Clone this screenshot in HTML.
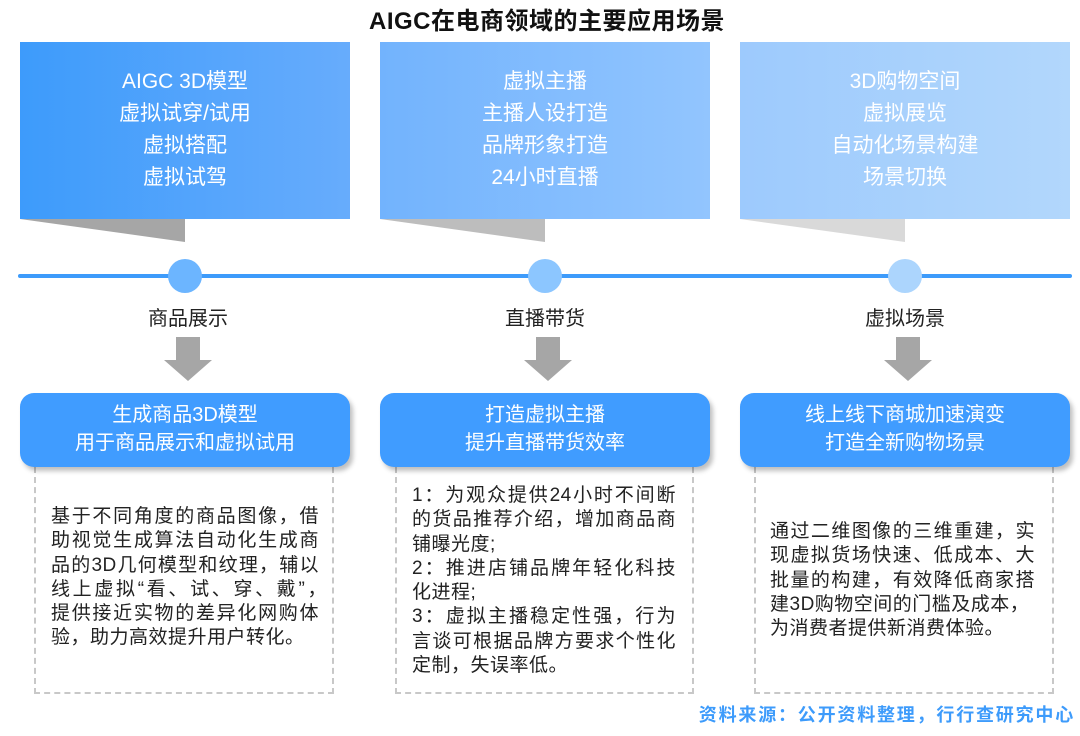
<!DOCTYPE html>
<html><head><meta charset="utf-8"><style>
body{margin:0;width:1080px;height:736px;background:#fff;position:relative;overflow:hidden;font-family:"Liberation Sans","Noto Sans CJK SC",sans-serif}
.a{position:absolute}
.title{left:0;width:1094px;top:1px;text-align:center;font-size:24px;font-weight:bold;color:#111;letter-spacing:0.5px}
.top{top:42px;height:177px;width:330px;color:#fff;font-size:21px;line-height:32px;text-align:center;box-sizing:border-box;padding-top:24px}
.lab{top:302px;font-size:20px;color:#222;width:200px;text-align:center}
.hd{top:393px;height:74px;width:330px;background:#409cff;border-radius:14px;color:#fff;font-size:20px;line-height:28px;text-align:center;box-sizing:border-box;padding-top:8px;box-shadow:3px 4px 5px rgba(0,0,0,0.25)}
.db{top:467px;height:227px;border:2px dashed #c8c8c8;border-top:none;box-sizing:border-box}
.tx{font-size:19px;line-height:24.3px;color:#222;letter-spacing:0.5px}
.tx div{white-space:nowrap}
.j{text-align:justify;text-align-last:justify}
</style></head><body>
<div class="a title">AIGC在电商领域的主要应用场景</div>

<svg class="a" style="left:0;top:0" width="1080" height="400">
<polygon points="20,219 185,219 185,242" fill="#a6a6a6"/>
<polygon points="380,219 545,219 545,242" fill="#bdbdbd"/>
<polygon points="740,219 905,219 905,242" fill="#d9d9d9"/>
<line x1="20" y1="276" x2="1070" y2="276" stroke="#3d9bfb" stroke-width="4" stroke-linecap="round"/>
<circle cx="185" cy="276" r="17" fill="#6cb5ff"/>
<circle cx="545" cy="276" r="17" fill="#8cc6ff"/>
<circle cx="905" cy="276" r="17" fill="#acd5fd"/>
<polygon points="176,337 200,337 200,360 212,360 188,381 164,360 176,360" fill="#a6a6a6"/>
<polygon points="536,337 560,337 560,360 572,360 548,381 524,360 536,360" fill="#a6a6a6"/>
<polygon points="896,337 920,337 920,360 932,360 908,381 884,360 896,360" fill="#a6a6a6"/>
</svg>

<div class="a top" style="left:20px;background:linear-gradient(90deg,#3d9bfb,#67acfc)">AIGC 3D模型<br>虚拟试穿/试用<br>虚拟搭配<br>虚拟试驾</div>
<div class="a top" style="left:380px;background:linear-gradient(90deg,#72b3fd,#92c5fe)">虚拟主播<br>主播人设打造<br>品牌形象打造<br>24小时直播</div>
<div class="a top" style="left:740px;background:linear-gradient(90deg,#9dcafd,#b2d7fc)">3D购物空间<br>虚拟展览<br>自动化场景构建<br>场景切换</div>

<div class="a lab" style="left:88px">商品展示</div>
<div class="a lab" style="left:445px">直播带货</div>
<div class="a lab" style="left:805px">虚拟场景</div>

<div class="a db" style="left:34px;width:300px"></div>
<div class="a db" style="left:395px;width:299px"></div>
<div class="a db" style="left:754px;width:300px"></div>

<div class="a hd" style="left:20px">生成商品3D模型<br>用于商品展示和虚拟试用</div>
<div class="a hd" style="left:380px">打造虚拟主播<br>提升直播带货效率</div>
<div class="a hd" style="left:740px">线上线下商城加速演变<br>打造全新购物场景</div>

<div class="a tx" style="left:51px;top:505px;width:268px">
<div class="j">基于不同角度的商品图像，借</div>
<div class="j">助视觉生成算法自动化生成商</div>
<div class="j">品的3D几何模型和纹理，辅以</div>
<div class="j" style="width:276px">线上虚拟“看、试、穿、戴”，</div>
<div class="j">提供接近实物的差异化网购体</div>
<div>验，助力高效提升用户转化。</div>
</div>

<div class="a tx" style="left:412px;top:484px;width:264px">
<div class="j">1：为观众提供24小时不间断</div>
<div class="j">的货品推荐介绍，增加商品商</div>
<div>铺曝光度;</div>
<div class="j">2：推进店铺品牌年轻化科技</div>
<div>化进程;</div>
<div class="j">3：虚拟主播稳定性强，行为</div>
<div class="j">言谈可根据品牌方要求个性化</div>
<div>定制，失误率低。</div>
</div>

<div class="a tx" style="left:770px;top:520px;width:265px">
<div class="j">通过二维图像的三维重建，实</div>
<div class="j">现虚拟货场快速、低成本、大</div>
<div class="j">批量的构建，有效降低商家搭</div>
<div>建3D购物空间的门槛及成本，</div>
<div>为消费者提供新消费体验。</div>
</div>

<div class="a" style="right:5px;top:701px;font-size:18px;font-weight:bold;color:#3d9bfb;letter-spacing:1.8px">资料来源：公开资料整理，行行查研究中心</div>
</body></html>
